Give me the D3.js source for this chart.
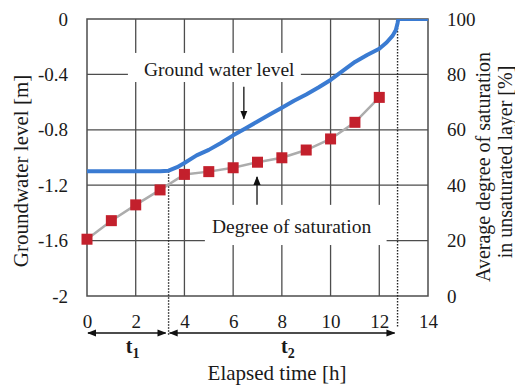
<!DOCTYPE html>
<html>
<head>
<meta charset="utf-8">
<script src="https://cdn.jsdelivr.net/npm/d3@7"></script>
<style>
  body { margin: 0; background: #fff; }
  svg text { font-family: "Liberation Serif", "Times New Roman", Times, "DejaVu Serif", serif; fill: #1a1a1a; }
</style>
</head>
<body>
<svg id="chart" width="515" height="387"></svg>
<script>
// groundwater level [m] against elapsed time [h]
const levelTime  = [0, 1, 2, 3, 3.35, 3.7, 4, 4.5, 5, 5.5, 6, 6.5, 7, 7.5, 8, 8.5, 9, 9.5, 10, 10.5, 11, 11.5, 12, 12.3, 12.55, 12.68, 12.75, 12.78, 13.5, 14];
const levelValue = [-1.1, -1.1, -1.1, -1.1, -1.095, -1.07, -1.04, -0.985, -0.945, -0.895, -0.84, -0.79, -0.74, -0.69, -0.64, -0.59, -0.545, -0.495, -0.44, -0.375, -0.31, -0.26, -0.215, -0.17, -0.12, -0.08, -0.03, 0, 0, 0];

// average degree of saturation in unsaturated layer [%]
const satTime  = [0, 1, 2, 3, 4, 5, 6, 7, 8, 9, 10, 11, 12];
const satValue = [20.5, 27.2, 32.9, 38.3, 43.9, 44.9, 46.3, 48.3, 49.9, 52.7, 56.7, 62.7, 71.7];

const xTicks      = [0, 2, 4, 6, 8, 10, 12, 14];
const yLeftTicks  = [0, -0.4, -0.8, -1.2, -1.6, -2];
const yRightTicks = [0, 20, 40, 60, 80, 100];
const phaseEnds   = [0, 3.35, 12.75];   // start, end of t1, end of t2

const serif = '"Liberation Serif", "Times New Roman", Times, "DejaVu Serif", serif';

// set the dimensions and margins of the graph
const margin = {top: 19, right: 87, bottom: 91, left: 87},
  width = 515 - margin.left - margin.right,
  height = 387 - margin.top - margin.bottom;

const svg = d3.select("#chart");

const x = d3.scaleLinear().domain([0, 14]).range([margin.left, margin.left + width]);
const yL = d3.scaleLinear().domain([-2, 0]).range([margin.top + height, margin.top]);
const yR = d3.scaleLinear().domain([0, 100]).range([margin.top + height, margin.top]);

const gridColor = "#4d4d4d";

// arrow heads
const defs = svg.append("defs");
defs.append("marker")
  .attr("id", "head")
  .attr("viewBox", "0 0 10 10")
  .attr("refX", 9).attr("refY", 5)
  .attr("markerWidth", 9).attr("markerHeight", 9)
  .attr("markerUnits", "userSpaceOnUse")
  .attr("orient", "auto-start-reverse")
  .append("path").attr("d", "M0,1 L10,5 L0,9 Z").attr("fill", "#111");
defs.append("clipPath").attr("id", "plotclip")
  .append("rect")
  .attr("x", margin.left).attr("y", margin.top)
  .attr("width", width).attr("height", height);

// grid lines
svg.append("g").selectAll("line")
  .data(xTicks.filter(d => d > 0 && d < 14))
  .join("line")
  .attr("x1", d => x(d)).attr("x2", d => x(d))
  .attr("y1", yL(0)).attr("y2", yL(-2))
  .attr("stroke", gridColor).attr("stroke-width", 1.3);
svg.append("g").selectAll("line")
  .data(yLeftTicks.filter(d => d < 0 && d > -2))
  .join("line")
  .attr("x1", x(0)).attr("x2", x(14))
  .attr("y1", d => yL(d)).attr("y2", d => yL(d))
  .attr("stroke", gridColor).attr("stroke-width", 1.3);

// white boxes behind the two labels
svg.append("rect")
  .attr("x", x(1.68)).attr("y", yL(-0.245))
  .attr("width", x(8.78) - x(1.68)).attr("height", yL(-0.455) - yL(-0.245))
  .attr("fill", "#fff");
svg.append("rect")
  .attr("x", x(4.84)).attr("y", yR(32.9))
  .attr("width", x(12.3) - x(4.84)).attr("height", yR(18.4) - yR(32.9))
  .attr("fill", "#fff");

// frame
svg.append("rect")
  .attr("x", margin.left).attr("y", margin.top)
  .attr("width", width).attr("height", height)
  .attr("fill", "none").attr("stroke", gridColor).attr("stroke-width", 1.5);

// axes (labels only)
const axisLeft = svg.append("g")
  .attr("transform", `translate(${margin.left},0)`)
  .call(d3.axisLeft(yL).tickValues(yLeftTicks).tickSize(0).tickPadding(19).tickFormat(d => String(d)));
const axisRight = svg.append("g")
  .attr("transform", `translate(${margin.left + width},0)`)
  .call(d3.axisRight(yR).tickValues(yRightTicks).tickSize(0).tickPadding(19));
const axisBottom = svg.append("g")
  .attr("transform", `translate(0,${margin.top + height})`)
  .call(d3.axisBottom(x).tickValues(xTicks).tickSize(0).tickPadding(19));
[axisLeft, axisRight, axisBottom].forEach(g => {
  g.attr("font-family", null).attr("font-size", null);
  g.select(".domain").remove();
  g.selectAll("text")
    .style("font-family", serif)
    .style("font-size", "19px")
    .attr("fill", "#1a1a1a");
});

// dotted phase boundaries
svg.append("line")
  .attr("x1", x(phaseEnds[1])).attr("x2", x(phaseEnds[1]))
  .attr("y1", yL(-1.1)).attr("y2", 335)
  .attr("stroke", "#222").attr("stroke-width", 1.4).attr("stroke-dasharray", "1.5,1.5");
svg.append("line")
  .attr("x1", x(phaseEnds[2])).attr("x2", x(phaseEnds[2]))
  .attr("y1", yL(0)).attr("y2", 328)
  .attr("stroke", "#222").attr("stroke-width", 1.4).attr("stroke-dasharray", "1.5,1.5");

// degree of saturation
const satData = satTime.map((t, i) => ({t: t, v: satValue[i]}));
svg.append("path")
  .datum(satData)
  .attr("d", d3.line().x(d => x(d.t)).y(d => yR(d.v)))
  .attr("fill", "none").attr("stroke", "#acacac").attr("stroke-width", 2.5);
svg.append("g").selectAll("rect")
  .data(satData)
  .join("rect")
  .attr("x", d => x(d.t) - 5.5).attr("y", d => yR(d.v) - 5.5)
  .attr("width", 11).attr("height", 11)
  .attr("fill", "#c3202c");

// groundwater level
const levelData = levelTime.map((t, i) => ({t: t, v: levelValue[i]}));
svg.append("path")
  .datum(levelData)
  .attr("clip-path", "url(#plotclip)")
  .attr("d", d3.line().x(d => x(d.t)).y(d => yL(d.v)))
  .attr("fill", "none").attr("stroke", "#3a7bd2").attr("stroke-width", 4)
  .attr("stroke-linejoin", "round");

// labels and pointer arrows
svg.append("text")
  .attr("x", x(5.43)).attr("y", yL(-0.41))
  .attr("text-anchor", "middle").style("font-size", "19.5px")
  .text("Ground water level");
svg.append("line")
  .attr("x1", x(6.44)).attr("x2", x(6.44))
  .attr("y1", yL(-0.49)).attr("y2", yL(-0.72))
  .attr("stroke", "#111").attr("stroke-width", 1.3).attr("marker-end", "url(#head)");
svg.append("text")
  .attr("x", x(8.4)).attr("y", yR(22.7))
  .attr("text-anchor", "middle").style("font-size", "19.5px")
  .text("Degree of saturation");
svg.append("line")
  .attr("x1", x(6.98)).attr("x2", x(6.98))
  .attr("y1", yR(32.9)).attr("y2", yR(43))
  .attr("stroke", "#111").attr("stroke-width", 1.3).attr("marker-end", "url(#head)");

// t1 / t2 arrows
const spanY = 333;
const spans = [
  {a: phaseEnds[0], b: phaseEnds[1], name: "1"},
  {a: phaseEnds[1], b: phaseEnds[2], name: "2"}
];
spans.forEach(s => {
  svg.append("line")
    .attr("x1", x(s.a) + 1).attr("x2", x(s.b) - 3)
    .attr("y1", spanY).attr("y2", spanY)
    .attr("stroke", "#111").attr("stroke-width", 1.3)
    .attr("marker-start", "url(#head)").attr("marker-end", "url(#head)");
  const lbl = svg.append("text")
    .attr("x", (x(s.a) + x(s.b)) / 2 - 2).attr("y", 353)
    .style("font-size", "20px").style("font-weight", "bold");
  lbl.append("tspan").text("t");
  lbl.append("tspan").attr("dy", 5).style("font-size", "14px").text(s.name);
});

// axis titles
svg.append("text")
  .attr("transform", "translate(28,171) rotate(-90)")
  .attr("text-anchor", "middle").style("font-size", "21px")
  .text("Groundwater level [m]");
svg.append("text")
  .attr("transform", "translate(490,167) rotate(-90)")
  .attr("text-anchor", "middle").style("font-size", "20px")
  .text("Average degree of saturation");
svg.append("text")
  .attr("transform", "translate(512,162) rotate(-90)")
  .attr("text-anchor", "middle").style("font-size", "20px")
  .text("in unsaturated layer [%]");
svg.append("text")
  .attr("x", 277).attr("y", 380)
  .attr("text-anchor", "middle").style("font-size", "21px")
  .text("Elapsed time [h]");
</script>
</body>
</html>
